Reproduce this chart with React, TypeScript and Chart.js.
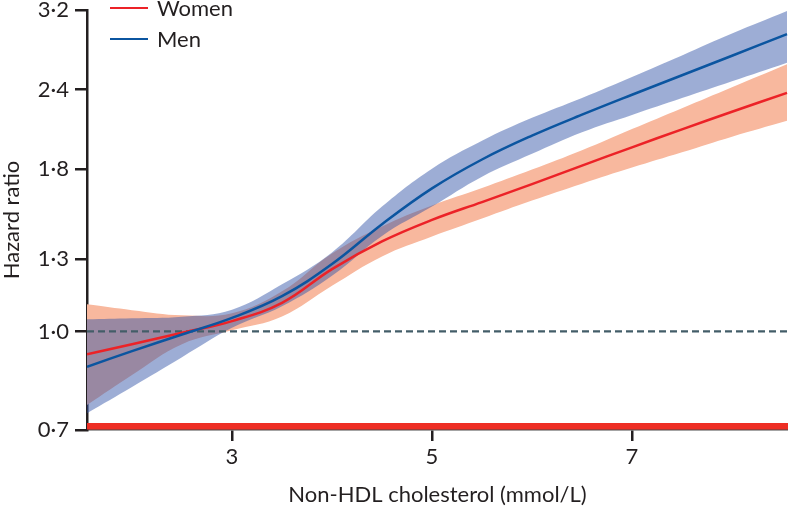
import React, { useEffect, useRef } from "react";
import { Chart, registerables } from "chart.js";

Chart.register(...registerables);

// ---- data ----
const xValues = [1.55, 2, 2.5, 3, 3.5, 4, 4.5, 5, 5.5, 6, 6.5, 7, 7.5, 8, 8.55];

const womenHR = [0.921, 0.955, 0.995, 1.038, 1.109, 1.253, 1.385, 1.497, 1.597, 1.704, 1.822, 1.947, 2.078, 2.214, 2.371];
const womenUpper = [1.103, 1.08, 1.06, 1.068, 1.156, 1.326, 1.462, 1.577, 1.68, 1.796, 1.926, 2.08, 2.243, 2.42, 2.63];
const womenLower = [0.766, 0.854, 0.955, 1.004, 1.056, 1.18, 1.312, 1.41, 1.505, 1.606, 1.707, 1.809, 1.912, 2.023, 2.143];

const menHR = [0.88, 0.931, 0.989, 1.05, 1.136, 1.276, 1.474, 1.678, 1.863, 2.031, 2.191, 2.355, 2.527, 2.712, 2.933];
const menUpper = [1.045, 1.049, 1.055, 1.082, 1.186, 1.331, 1.571, 1.802, 1.994, 2.166, 2.328, 2.512, 2.715, 2.938, 3.187];
const menLower = [0.744, 0.818, 0.911, 1.013, 1.095, 1.223, 1.413, 1.571, 1.751, 1.902, 2.056, 2.189, 2.327, 2.473, 2.645];

const referenceX = [1.55, 8.56];
const referenceHR = [1, 1];

const xTicks = [3, 5, 7];
const xTickLabels = ["3", "5", "7"];
const yTicks = [0.7, 1.0, 1.3, 1.8, 2.4, 3.2];
const yTickLabels = ["0·7", "1·0", "1·3", "1·8", "2·4", "3·2"];

const seriesLabels = ["Women", "Men"];
const xTitle = "Non-HDL cholesterol (mmol/L)";
const yTitle = "Hazard ratio";

// ---- style ----
const FONT = "Lato";
const TEXT = "#231f20";
const RED = "#ec2227";
const BLUE = "#0b55a0";
const RED_BAND = "rgb(248,184,158)";
const BLUE_BAND = "rgba(51,84,168,0.48)";

const toPts = (ys: number[]) => ys.map((y, i) => ({ x: xValues[i], y }));

const bottomBand = {
  id: "bottomBand",
  afterDatasetsDraw(chart: any) {
    const { ctx, chartArea } = chart;
    ctx.save();
    ctx.fillStyle = "#ee2e24";
    ctx.fillRect(chartArea.left, chartArea.bottom - 7, chartArea.right - chartArea.left, 6.5);
    ctx.restore();
  },
};

export default function App() {
  const ref = useRef<HTMLCanvasElement>(null);

  useEffect(() => {
    if (!ref.current) return;
    const common = { pointRadius: 0, tension: 0.4 };
    const chart = new Chart(ref.current, {
      type: "line",
      data: {
        datasets: [
          { ...common, label: "wu", data: toPts(womenUpper), borderWidth: 0, borderColor: "transparent", backgroundColor: RED_BAND, fill: "+1", order: 6 },
          { ...common, label: "wl", data: toPts(womenLower), borderWidth: 0, borderColor: "transparent", fill: false, order: 6 },
          { ...common, label: "mu", data: toPts(menUpper), borderWidth: 0, borderColor: "transparent", backgroundColor: BLUE_BAND, fill: "+1", order: 5 },
          { ...common, label: "ml", data: toPts(menLower), borderWidth: 0, borderColor: "transparent", fill: false, order: 5 },
          { pointRadius: 0, label: "ref", data: referenceX.map((x, i) => ({ x, y: referenceHR[i] })), borderColor: "#435d68", borderWidth: 2.2, borderDash: [7, 4], fill: false, order: 3 },
          { ...common, label: seriesLabels[0], data: toPts(womenHR), borderColor: RED, borderWidth: 2.5, fill: false, order: 2 },
          { ...common, label: seriesLabels[1], data: toPts(menHR), borderColor: BLUE, borderWidth: 2.5, fill: false, order: 1 },
        ],
      },
      options: {
        animation: false,
        responsive: false,
        events: [],
        layout: { padding: { top: 10, right: 0, left: 0, bottom: 0 } },
        plugins: { legend: { display: false }, tooltip: { enabled: false } },
        scales: {
          x: {
            type: "linear",
            min: 1.55,
            max: 8.56,
            afterBuildTicks: (s: any) => {
              s.ticks = xTicks.map((v) => ({ value: v }));
            },
            afterFit: (s: any) => {
              s.height = 77;
              s.paddingLeft = 0;
              s.paddingRight = 0;
            },
            ticks: {
              callback: (_v: any, i: number) => xTickLabels[i],
              font: { size: 22, family: FONT },
              color: TEXT,
              padding: 3,
              maxRotation: 0,
              autoSkip: false,
            },
            grid: { drawOnChartArea: false, tickLength: 11, tickWidth: 2.5, lineWidth: 2.5, tickColor: TEXT, color: TEXT },
            border: { display: true, color: "#4a4a4a", width: 1.5 },
            title: { display: true, text: xTitle, font: { size: 22, family: FONT, lineHeight: 1.1 }, color: TEXT, padding: 0 },
          },
          y: {
            type: "logarithmic",
            min: 0.7,
            max: 3.2,
            afterBuildTicks: (s: any) => {
              s.ticks = yTicks.map((v) => ({ value: v }));
            },
            afterFit: (s: any) => {
              s.width = 87;
              s.paddingTop = 0;
              s.paddingBottom = 0;
            },
            ticks: {
              callback: (_v: any, i: number) => yTickLabels[i],
              font: { size: 22, family: FONT },
              color: TEXT,
              padding: 6,
              autoSkip: false,
            },
            grid: { drawOnChartArea: false, tickLength: 12, tickWidth: 2.5, lineWidth: 2.5, tickColor: TEXT, color: TEXT },
            border: { display: true, color: TEXT, width: 2.5 },
            title: { display: true, text: yTitle, font: { size: 22, family: FONT, lineHeight: 1.1 }, color: TEXT, padding: 0 },
          },
        },
      },
      plugins: [bottomBand],
    });
    return () => chart.destroy();
  }, []);

  const legendItem = (label: string, color: string, y: number) => (
    <div key={label} style={{ position: "absolute", left: 110, top: y - 11, height: 22, display: "flex", alignItems: "center" }}>
      <span style={{ display: "inline-block", width: 38, height: 2.5, background: color }} />
      <span style={{ marginLeft: 9, font: `22px ${FONT}`, color: TEXT, lineHeight: "22px" }}>{label}</span>
    </div>
  );

  return (
    <div style={{ position: "absolute", left: 0, top: 0, width: 788, height: 507, background: "#fff", overflow: "hidden" }}>
      <canvas ref={ref} width={788} height={507} style={{ display: "block" }} />
      {legendItem(seriesLabels[0], RED, 8)}
      {legendItem(seriesLabels[1], BLUE, 39)}
    </div>
  );
}
